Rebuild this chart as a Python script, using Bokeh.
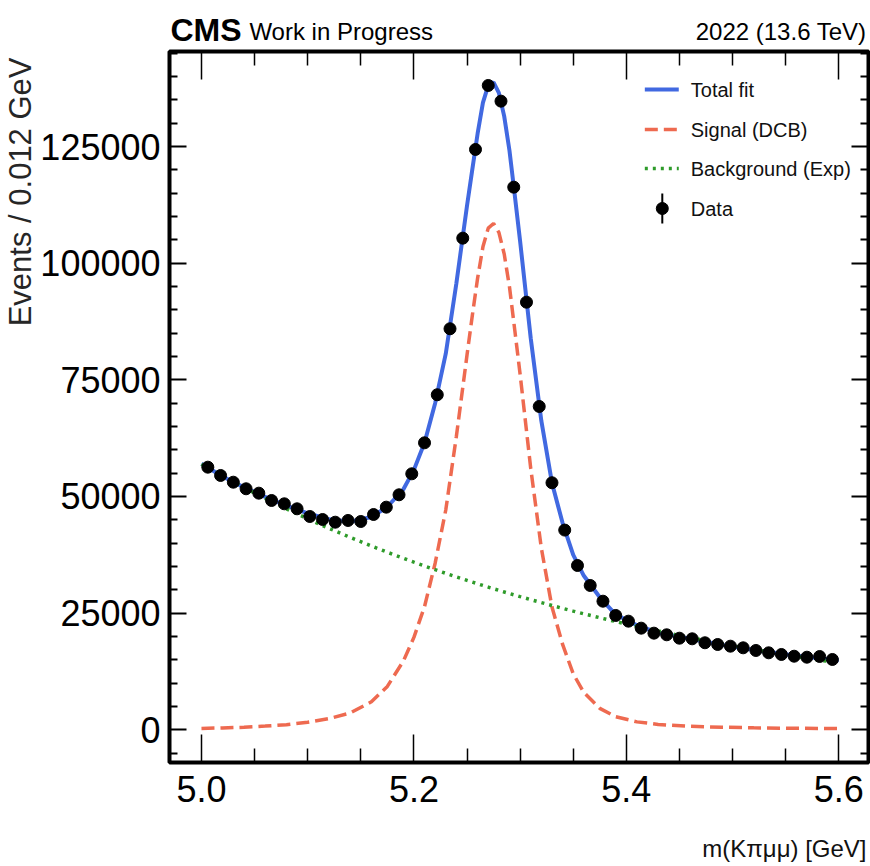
from bokeh.core.properties import value
from bokeh.embed import file_html
from bokeh.layouts import column
from bokeh.models import (CustomJSTickFormatter, FixedTicker, Label, LinearAxis,
                          PrintfTickFormatter, Range1d, Title)
from bokeh.plotting import figure
from bokeh.resources import INLINE

# ---------------------------------------------------------------------------
# Data: events per 0.012 GeV bin between 5.0 and 5.6 GeV
# ---------------------------------------------------------------------------
bin_low = 5.0
bin_width = 0.012
events = [56280, 54500, 53060, 51650, 50710, 49140, 48430, 47360, 45710, 45070,
          44490, 44860, 44640, 46140, 47710, 50360, 54860, 61500, 71800, 85940,
          105360, 124370, 138080, 134720, 116290, 91640, 69290, 52940, 42800, 35210,
          30930, 27560, 24500, 23280, 21780, 20710, 20360, 19630, 19500, 18650,
          18280, 17920, 17570, 17000, 16500, 16140, 15770, 15560, 15710, 15070]
bin_centers = [bin_low + bin_width * (i + 0.5) for i in range(len(events))]

# Fit curves sampled along the mass axis
fit_mass = [5.000, 5.020, 5.040, 5.060, 5.080, 5.100, 5.120, 5.140, 5.160, 5.175,
            5.190, 5.200, 5.210, 5.220, 5.230, 5.240, 5.250, 5.255, 5.260, 5.265,
            5.270, 5.275, 5.280, 5.285, 5.290, 5.295, 5.300, 5.310, 5.320, 5.330,
            5.340, 5.350, 5.360, 5.375, 5.390, 5.410, 5.430, 5.460, 5.490, 5.520,
            5.560, 5.600]
fit_total = [57000, 54300, 51950, 49900, 48050, 46400, 45100, 44600, 45600, 47800,
             51500, 55700, 61500, 70000, 80600, 95700, 112300, 120100, 127800, 134400,
             138100, 138750, 136500, 131500, 124100, 114500, 104700, 83900, 66200, 52900,
             44300, 37500, 33000, 28400, 24700, 22400, 20800, 19500, 18200, 17100,
             15850, 14900]
fit_signal = [300, 400, 550, 800, 1100, 1600, 2400, 3600, 6000, 9300,
              14700, 19800, 26400, 35700, 47100, 62900, 80300, 88800, 96800, 103500,
              107500, 108500, 106600, 102000, 94900, 85600, 76200, 56000, 38900, 26300,
              18300, 12000, 8000, 4600, 2800, 1700, 1150, 750, 550, 420,
              320, 250]
fit_background = [56900, 54340, 51900, 49570, 47340, 45210, 43180, 41240, 39380, 38050,
                  36760, 35920, 35100, 34310, 33530, 32760, 32020, 31650, 31290, 30930,
                  30580, 30230, 29880, 29540, 29200, 28870, 28540, 27890, 27260, 26640,
                  26030, 25440, 24860, 24020, 23200, 22160, 21170, 19750, 18430, 17210,
                  15690, 14310]

x_major = [5.0, 5.2, 5.4, 5.6]
x_minor = [5.05, 5.1, 5.15, 5.25, 5.3, 5.35, 5.45, 5.5, 5.55]
y_major = [0, 25000, 50000, 75000, 100000, 125000]
y_minor = [-5000] + [v for v in range(5000, 145001, 5000) if v % 25000]

legend_labels = ["Total fit", "Signal (DCB)", "Background (Exp)", "Data"]

# ---------------------------------------------------------------------------
# Styling and geometry (canvas pixels)
# ---------------------------------------------------------------------------
FONT = "Liberation Sans"
BLUE = "#4169E1"
RED = "#EE6A50"
GREEN = "#2E9B2A"

W = 870
LEFT, RIGHT = 168, 2
HEADER_H = 49
TOP, FH, BOTTOM = 2, 711, 62
MAIN_H = TOP + FH + BOTTOM
FOOTER_H = 866 - HEADER_H - MAIN_H
FRAME_TOP = HEADER_H + TOP
FOOTER_TOP = HEADER_H + MAIN_H
FW = W - LEFT - RIGHT
X0, X1 = 4.9699, 5.628
Y0, Y1 = -7008, 145360
MID = 0.34  # offset from text middle down to its baseline, in em


def px_x(sx):
    """Canvas pixel column -> data x."""
    return X0 + (sx - LEFT) / FW * (X1 - X0)


def px_y(sy):
    """Canvas pixel row -> data y."""
    return Y1 - (sy - FRAME_TOP) / FH * (Y1 - Y0)


def strip(height):
    """Text-only strip sharing the main plot's horizontal frame, in pixel units."""
    s = figure(width=W, height=height, x_range=Range1d(LEFT, W - RIGHT),
               y_range=Range1d(height, 0), output_backend="svg", toolbar_location=None,
               min_border_left=LEFT, min_border_right=RIGHT,
               min_border_top=0, min_border_bottom=0,
               x_axis_location=None, y_axis_location=None)
    s.title.visible = False
    s.grid.visible = False
    s.outline_line_color = None
    s.background_fill_color = "white"
    s.border_fill_color = "white"
    return s


def strip_text(s, x, baseline, text, size, top=0, **kw):
    """Place a text so that its baseline lands on the given canvas row."""
    s.text(x=[x], y=[baseline - top - MID * size], text=[text], text_font=value(FONT),
           text_font_size=f"{size}px", text_baseline="middle", **kw)


# Header strip: experiment tag and data-taking period
header = strip(HEADER_H)
strip_text(header, 169, 40, "CMS", 32, text_font_style="bold", text_color="black")
strip_text(header, 248, 39.5, "Work in Progress", 24, text_color="black")
strip_text(header, 866, 39.5, "2022 (13.6 TeV)", 24, text_align="right", text_color="black")

# Footer strip: mass-axis title, flush with the right end of the axis
footer = strip(FOOTER_H)
strip_text(footer, 866, 856, "m(Kπμμ) [GeV]", 24, top=FOOTER_TOP, text_align="right",
           text_color="#111111")

# ---------------------------------------------------------------------------
# Main plot
# ---------------------------------------------------------------------------
p = figure(width=W, height=MAIN_H, x_range=Range1d(X0, X1), y_range=Range1d(Y0, Y1),
           output_backend="svg", toolbar_location=None,
           min_border_left=LEFT, min_border_right=RIGHT,
           min_border_top=TOP, min_border_bottom=BOTTOM,
           x_axis_location=None, y_axis_location=None)
p.title.visible = False
p.grid.visible = False
p.background_fill_color = "white"
p.border_fill_color = "white"
p.outline_line_color = "black"
p.outline_line_width = 4


def make_axis(major, minor, fmt, tick_len, minor_len, width, labels):
    ax = LinearAxis(ticker=FixedTicker(ticks=major, minor_ticks=minor))
    ax.axis_line_color = None
    ax.major_tick_in = tick_len
    ax.major_tick_out = 0
    ax.minor_tick_in = minor_len
    ax.minor_tick_out = 0
    ax.major_tick_line_width = width
    ax.minor_tick_line_width = width
    ax.major_tick_line_color = "black"
    ax.minor_tick_line_color = "black"
    if labels:
        ax.formatter = PrintfTickFormatter(format=fmt)
        ax.major_label_text_font = FONT
        ax.major_label_text_font_size = "36px"
        ax.major_label_text_color = "black"
    else:
        ax.formatter = CustomJSTickFormatter(code="return ''")
        ax.major_label_text_font_size = "0px"
        ax.major_label_standoff = 0
    return ax


x_bottom = make_axis(x_major, x_minor, "%.1f", 28, 14, 1.5, True)
x_bottom.major_label_standoff = 13
y_left = make_axis(y_major, y_minor, "%d", 17, 8, 2, True)
y_left.major_label_standoff = 9
x_top = make_axis(x_major, x_minor, "%.1f", 28, 14, 1.5, False)
y_right = make_axis(y_major, y_minor, "%d", 17, 8, 2, False)
p.add_layout(x_bottom, "below")
p.add_layout(x_top, "above")
p.add_layout(y_left, "left")
p.add_layout(y_right, "right")

# Vertical axis title, flush with the top of the axis
p.add_layout(Title(text="Events / 0.012 GeV", align="right", vertical_align="bottom",
                   standoff=0, offset=6, text_font=FONT, text_font_style="normal",
                   text_font_size="31px", text_color="#262626"), "left")

# Fit components and data
p.line(fit_mass, fit_total, line_color=BLUE, line_width=4)
p.line(fit_mass, fit_signal, line_color=RED, line_width=3.5, line_dash="13 6")
p.line(fit_mass, fit_background, line_color=GREEN, line_width=3.5, line_dash="3 5")
p.scatter(bin_centers, events, size=12, marker="circle",
          fill_color="black", line_color="black")

# Legend
rows = [89, 129, 168, 208]
lx0, lx1 = px_x(644), px_x(678)
p.line([lx0, lx1], [px_y(rows[0])] * 2, line_color=BLUE, line_width=4)
p.line([lx0, lx1], [px_y(rows[1])] * 2, line_color=RED, line_width=3.5, line_dash="13 6")
p.line([lx0, lx1], [px_y(rows[2])] * 2, line_color=GREEN, line_width=3.5, line_dash="3 5")
p.segment(x0=[px_x(661.5)], y0=[px_y(193)], x1=[px_x(661.5)], y1=[px_y(223)],
          line_color="black", line_width=2)
p.scatter([px_x(661.5)], [px_y(rows[3])], size=12, marker="circle",
          fill_color="black", line_color="black")
for label, row in zip(legend_labels, rows):
    p.add_layout(Label(x=px_x(690), y=px_y(row), text=label, text_font=FONT,
                       text_font_size="20px", text_baseline="middle",
                       text_color="#111111"))

layout = column(header, p, footer, spacing=0)
open("out.html", "w").write(file_html(layout, INLINE))
